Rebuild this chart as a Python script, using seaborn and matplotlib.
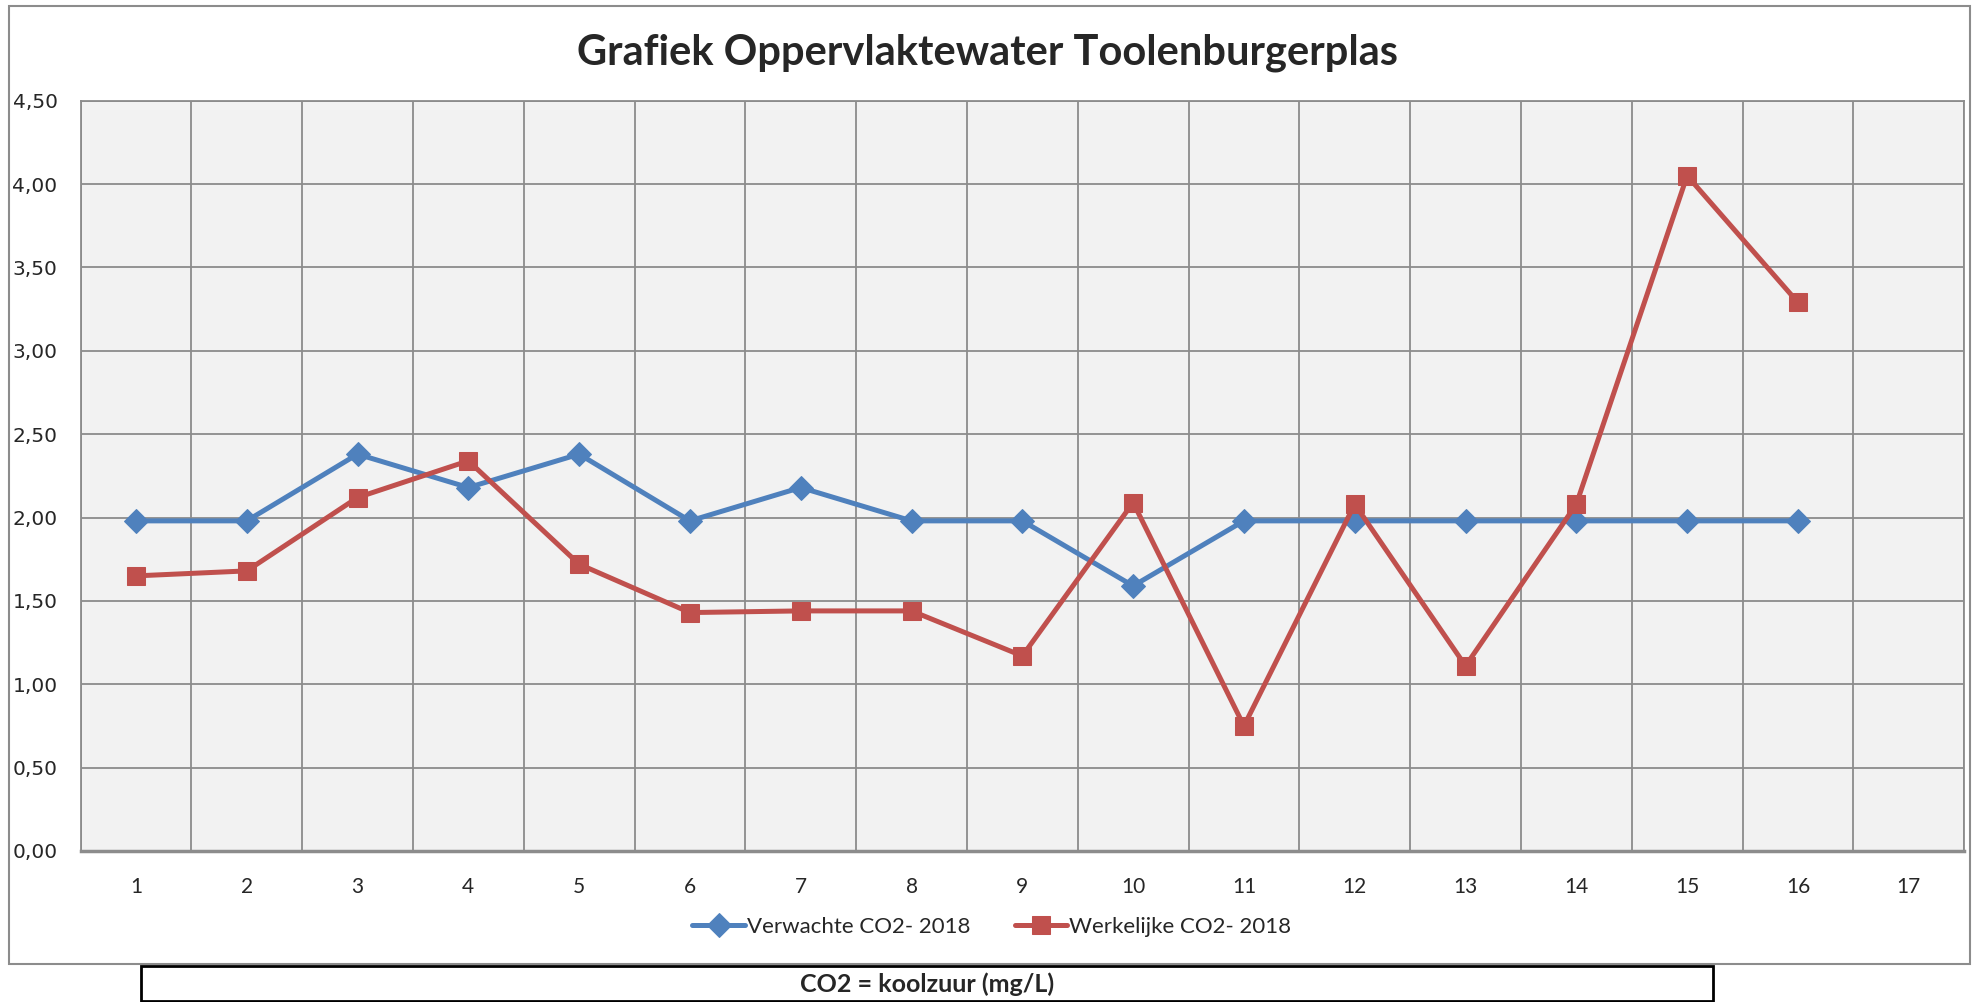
import matplotlib
matplotlib.use('Agg')
import matplotlib.pyplot as plt
import seaborn as sns
import pandas as pd
from matplotlib.patches import Rectangle
from matplotlib.ticker import FuncFormatter, MultipleLocator

metingen = list(range(1, 17))
verwacht = [1.98, 1.98, 2.38, 2.18, 2.38, 1.98, 2.18, 1.98,
            1.98, 1.59, 1.98, 1.98, 1.98, 1.98, 1.98, 1.98]
werkelijk = [1.65, 1.68, 2.12, 2.34, 1.72, 1.43, 1.44, 1.44,
             1.17, 2.09, 0.75, 2.08, 1.11, 2.08, 4.05, 3.29]
serie_namen = ['Verwachte CO2- 2018', 'Werkelijke CO2- 2018']
x_labels = [str(i) for i in range(1, 18)]

titel = 'Grafiek Oppervlaktewater Toolenburgerplas'
voetnoot = 'CO2 = koolzuur (mg/L)'

BLAUW = '#4F81BD'
ROOD = '#C0504D'
GRID = '#8C8C8C'

sns.set_style('white')
plt.rcParams['font.family'] = ['Lato', 'DejaVu Sans']

df_v = pd.DataFrame({'Meting': metingen, 'CO2': verwacht})
df_w = pd.DataFrame({'Meting': metingen, 'CO2': werkelijk})

fig = plt.figure(figsize=(19.74, 10.02), dpi=100)
ax = fig.add_axes([0.0408, 0.1507, 0.9542, 0.7488])
ax.set_facecolor('#F2F2F2')

sns.lineplot(data=df_v, x='Meting', y='CO2', ax=ax, color=BLAUW, lw=3.6,
             marker='D', markersize=12, markeredgecolor=BLAUW,
             label=serie_namen[0], zorder=3)
sns.lineplot(data=df_w, x='Meting', y='CO2', ax=ax, color=ROOD, lw=3.6,
             marker='s', markersize=13.5, markeredgecolor=ROOD,
             label=serie_namen[1], zorder=4)

ax.set_xlim(0.5, 17.5)
ax.set_ylim(0, 4.5)
ax.set_xticks(range(1, 18))
ax.set_xticklabels(x_labels)
ax.xaxis.set_minor_locator(MultipleLocator(1, offset=0.5))
ax.yaxis.set_major_locator(MultipleLocator(0.5))
ax.yaxis.set_major_formatter(FuncFormatter(lambda v, p: f'{v:.2f}'.replace('.', ',')))

ax.grid(False)
ax.grid(True, which='minor', axis='x', color=GRID, lw=1.3)
ax.grid(True, which='major', axis='y', color=GRID, lw=1.3)
ax.set_axisbelow(True)

ax.tick_params(axis='x', which='major', length=0, pad=19, labelsize=15)
ax.tick_params(axis='x', which='minor', length=6, width=1.3, color=GRID, direction='out')
ax.tick_params(axis='y', which='major', length=6, width=1.3, color=GRID, pad=10.5,
               labelsize=14.5, labelfontfamily='DejaVu Sans')

for s in ax.spines.values():
    s.set_color(GRID)
    s.set_linewidth(1.3)
ax.spines['bottom'].set_linewidth(2.5)

ax.set_xlabel('')
ax.set_ylabel('')

ax.legend(loc='center', bbox_to_anchor=(0.5025, 0.0749), bbox_transform=fig.transFigure,
          ncol=2, frameon=False, fontsize=16, handlelength=2.35, handletextpad=0.1,
          columnspacing=2.0)

fig.text(0.5005, 0.947, titel, ha='center', va='center', fontsize=30, fontweight='bold')

# kader rond de grafiek
fig.patches.append(Rectangle((9 / 1974, 1 - 964 / 1002), 1961 / 1974, 958 / 1002,
                             transform=fig.transFigure, fill=False, edgecolor='#8C8C8C', lw=1.5))
# kader voetnoot
fig.patches.append(Rectangle((141 / 1974, 1 - 1001 / 1002), 1572 / 1974, 35 / 1002,
                             transform=fig.transFigure, fill=False, edgecolor='black', lw=2))
fig.text(927 / 1974, 1 - 984 / 1002, voetnoot, ha='center', va='center', fontsize=18,
         fontweight='bold')

fig.savefig('out.png', dpi=100)
